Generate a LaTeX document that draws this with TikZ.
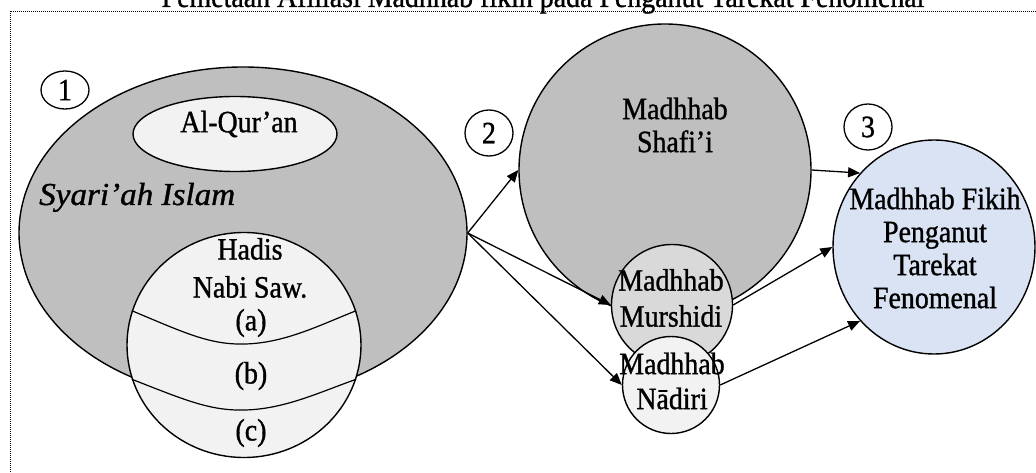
\documentclass[tikz,border=0pt]{standalone}
\usepackage{fontspec}
\setmainfont{Liberation Serif}[FakeStretch=0.9, FakeBold=1.0]
\usetikzlibrary{positioning,arrows.meta,shapes.geometric}
\definecolor{grayDark}{HTML}{BFBFBF}
\definecolor{grayMid}{HTML}{D9D9D9}
\definecolor{grayLight}{HTML}{F2F2F2}
\definecolor{paleBlue}{HTML}{DAE3F3}

\begin{document}
\begin{tikzpicture}[
  x=1pt, y=-1pt,
  font=\fontsize{31}{33}\selectfont,
  blob/.style={draw, line width=1.4pt, inner sep=0pt},
  roundblob/.style={blob, circle},
  ovalblob/.style={blob, ellipse},
  numbox/.style={draw, line width=1.3pt, ellipse, fill=white,
    minimum width=48pt, minimum height=46pt, inner sep=0pt},
  txt/.style={align=center, inner sep=0pt},
  arr/.style={-{Triangle[length=12pt,width=10pt]}, line width=1.3pt}
]
\useasboundingbox (0,0) rectangle (1036,473);

% frame and title
\draw[line width=0.9pt, dash pattern=on 1pt off 1pt] (10,11) rectangle (1060,500);
\node[txt, anchor=base] (title) at (543,7) {Pemetaan Afiliasi Madhhab fikih pada Penganut Tarekat Fenomenal};

% (1) sources
\node[ovalblob, fill=grayDark, minimum width=448pt, minimum height=332pt] (syariah) at (243,233) {};
\node[ovalblob, fill=grayLight, minimum width=204pt, minimum height=75pt] (quran) at (235,134) {};
\node[txt] (quranT) at (239,124) {Al-Qur’an};
\node[txt, anchor=base west] (syariahT) at (39,205)
  {\scalebox{1.15}[1]{\fontsize{32}{36}\selectfont\itshape Syari’ah Islam}};
\node[ovalblob, fill=grayLight, minimum width=234pt, minimum height=225pt] (hadis) at (244,345) {};
\draw[line width=1.2pt] (hadis.163) .. controls (185,333) and (210,345) .. (245,344)
  .. controls (285,343) and (320,325) .. (hadis.17);
\draw[line width=1.2pt] (hadis.197) .. controls (185,400) and (210,411) .. (245,410)
  .. controls (285,409) and (320,392) .. (hadis.343);
\node[txt, font=\fontsize{31}{38}\selectfont] (hadisT) at (250,268) {Hadis\\Nabi Saw.};
\node[txt] (partA) at (251,323) {(a)};
\node[txt] (partB) at (251,376) {(b)};
\node[txt] (partC) at (251,433) {(c)};

% (2) madhhab
\node[roundblob, fill=grayDark, minimum size=292pt] (shafii) at (665,170) {};
\node[txt] (shafiiT) at (675,125) {Madhhab\\Shafi’i};
\node[roundblob, fill=grayMid, minimum size=121pt] (murshidi) at (672,305) {};
\node[txt, font=\fontsize{31}{36}\selectfont] (murshidiT) at (671,298) {Madhhab\\Murshidi};
\node[roundblob, fill=grayLight, minimum size=97pt] (nadiri) at (671,385) {};
\node[txt, font=\fontsize{31}{35}\selectfont] (nadiriT) at (672,381) {Madhhab\\Nādiri};

% (3) result
\node[ovalblob, fill=paleBlue, minimum width=202pt, minimum height=214pt] (fenom) at (934,247) {};
\node[txt] (fenomT) at (935,248) {Madhhab Fikih\\Penganut\\Tarekat\\Fenomenal};

% numbers
\node[numbox, minimum height=38pt] (numA) at (65,90) {1};
\node[numbox] (numB) at (489,133) {2};
\node[numbox] (numC) at (868,127) {3};

% arrows
\draw[arr] (syariah.east) -- (shafii.west);
\draw[arr] (syariah.east) -- (murshidi.west);
\draw[arr] (syariah.east) -- (nadiri.west);
\draw[arr] (shafii.east) -- (fenom.135);
\draw[arr] (murshidi.east) -- (fenom.west);
\draw[arr] (nadiri.east) -- (fenom.225);

\end{tikzpicture}
\end{document}
